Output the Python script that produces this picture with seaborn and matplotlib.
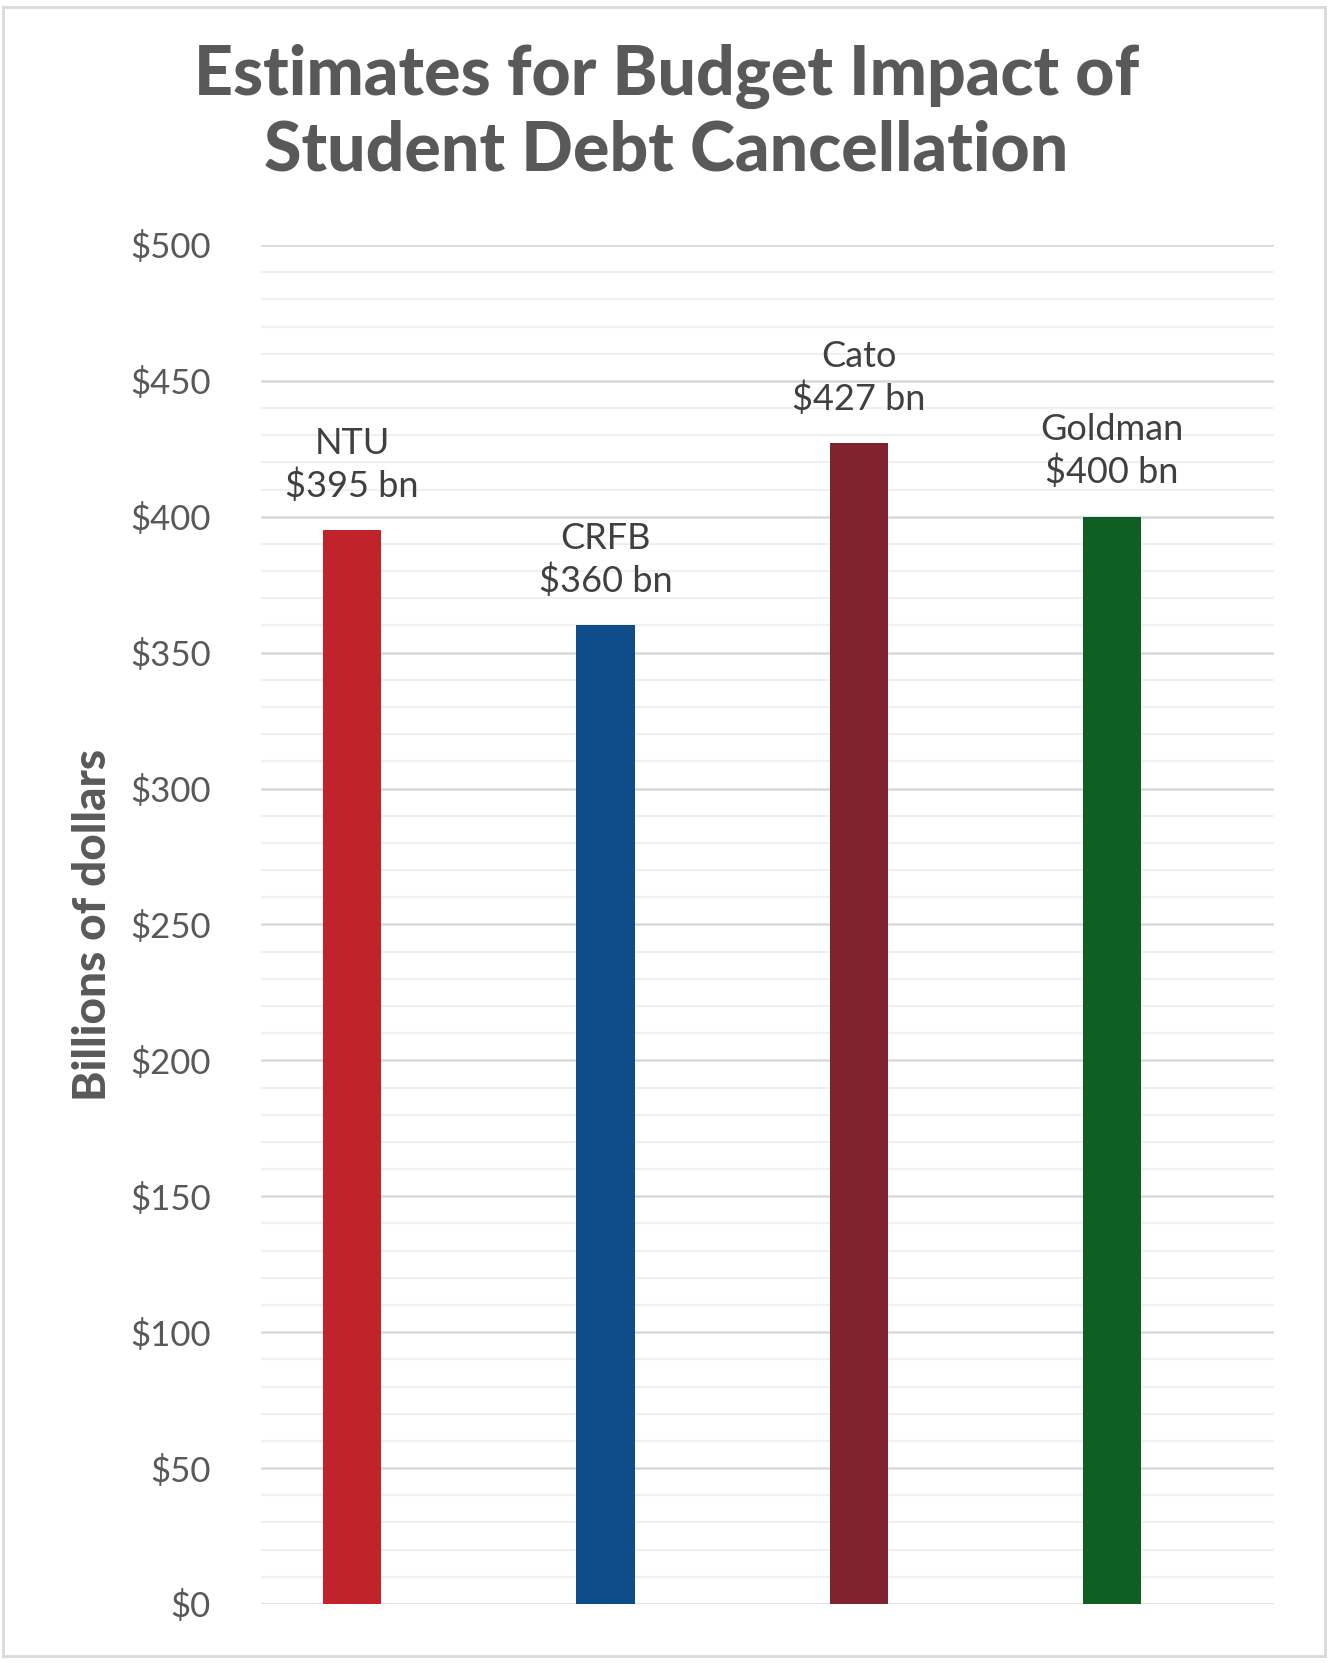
import matplotlib
matplotlib.use('Agg')
import matplotlib.pyplot as plt
import matplotlib.patches as patches
from matplotlib.ticker import MultipleLocator, FuncFormatter
import seaborn as sns

# === DATA ===
sources = ['NTU', 'CRFB', 'Cato', 'Goldman']
estimates = [395, 360, 427, 400]
bar_colors = ['#C0232A', '#0F4C8A', '#7D222E', '#0F5E22']

sns.set_theme(style='white')
plt.rcParams['font.family'] = ['Lato', 'DejaVu Sans']

fig = plt.figure(figsize=(13.33, 16.63), dpi=100)
ax = fig.add_axes([0.1958, 0.0355, 0.7599, 0.8172])

sns.barplot(x=sources, y=estimates, hue=sources, palette=bar_colors,
            width=0.23, legend=False, ax=ax, saturation=1,
            edgecolor='none')

# grid lines
ax.set_ylim(0, 500)
ax.set_xlim(-0.36, 3.64)
ax.yaxis.set_major_locator(MultipleLocator(50))
ax.yaxis.set_minor_locator(MultipleLocator(10))
ax.yaxis.set_major_formatter(FuncFormatter(lambda v, p: f'${v:.0f}'))
ax.grid(which='minor', axis='y', color='#f0f0f0', lw=1.6)
ax.grid(which='major', axis='y', color='#d9d9d9', lw=1.8)
ax.set_axisbelow(True)
for s in ax.spines.values():
    s.set_visible(False)
ax.tick_params(axis='y', which='both', length=0, pad=36, labelsize=25,
               labelcolor='#595959')
ax.set_xticks([])
ax.set_xlabel('')
ax.set_ylabel('Billions of dollars', fontsize=33, fontweight='black',
              color='#595959', labelpad=12)

# data labels
for i, (name, val) in enumerate(zip(sources, estimates)):
    ax.annotate(f'{name}\n${val} bn', xy=(i, val), xytext=(0, 20),
                textcoords='offset points', ha='center', va='bottom',
                fontsize=26, color='#404040', linespacing=1.3)

fig.text(0.5, 0.932, 'Estimates for Budget Impact of\nStudent Debt Cancellation',
         ha='center', va='center', fontsize=49, fontweight='black',
         color='#595959', linespacing=1.2)

# outer border
fig.patches.append(patches.Rectangle((0.002, 0.004), 0.992, 0.992,
                                     transform=fig.transFigure, fill=False,
                                     edgecolor='#d9d9d9', lw=2))

fig.savefig('out.png', dpi=100, facecolor='white')
